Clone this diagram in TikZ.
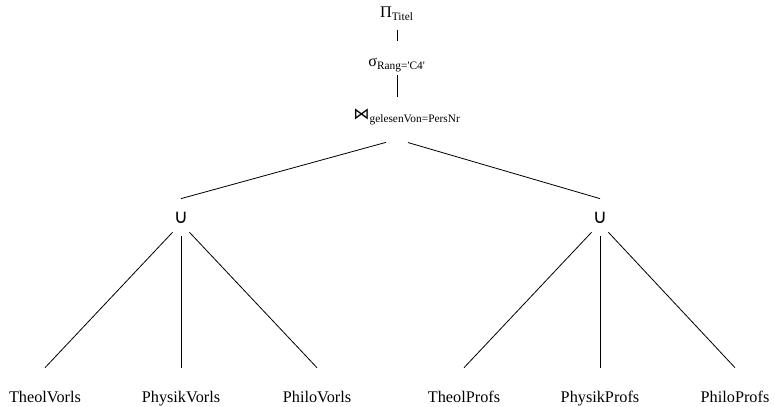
\documentclass[tikz,border=0pt]{standalone}
\usepackage{amsmath, amssymb}
\usepackage{fontspec}
\setmainfont{Liberation Serif}
\newfontfamily\opsymfont{DejaVu Sans}
\usepackage{tikz}
\usetikzlibrary{positioning}

\begin{document}
\begin{tikzpicture}[x=0.6154pt, y=-0.6154pt,
    op/.style={inner sep=0pt, anchor=base, text height=6pt, text depth=2pt},
    joinop/.style={inner sep=0pt, anchor=base, text height=6pt, text depth=11.7pt},
    unionop/.style={inner sep=0pt, anchor=base, text height=14.8pt, text depth=0pt, font=\opsymfont\fontsize{12}{14}\selectfont},
    rel/.style={inner sep=0pt, anchor=base, text height=20.9pt, text depth=1pt},
    edge/.style={line width=0.5pt}]
            \useasboundingbox (0,0) rectangle (775,407);
            \draw (397,18) node[op]                  (proj) {$\text{Π}_{\text{Titel}}$};
            \draw (397,67) node[op]                  (sel) {$\text{σ}_{\text{Rang=\textquotesingle C4\textquotesingle}}$};
            \draw (407,120) node[joinop]             (join) {$\text{\opsymfont ⋈}_{\text{gelesenVon=PersNr}}$};
            \draw (181,223) node[unionop]            (uV) {∪};
            \draw (600,223) node[unionop]            (uP) {∪};
            \draw (45,402) node[rel]                 (theolV) {TheolVorls};
            \draw (181,402) node[rel]                (physikV) {PhysikVorls};
            \draw (317,402) node[rel]                (philoV) {PhiloVorls};
            \draw (464,402) node[rel]                (theolP) {TheolProfs};
            \draw (600,402) node[rel]                (physikP) {PhysikProfs};
            \draw (735,402) node[rel]                (philoP) {PhiloProfs};
            \draw[edge, shorten <=5pt, shorten >=10pt] (proj.south) -- (sel.north);
            \draw[edge, shorten <=3pt, shorten >=8pt] (sel.south) -- (sel.south |- join.north);
            \foreach \u in {uV, uP}
              \draw[edge, shorten <=7pt] (join.south -| proj.south) -- (\u.north);
            \foreach \r in {theolV, physikV, philoV}
              \draw[edge, shorten <=7.5pt] (uV.south) -- (\r.north);
            \foreach \r in {theolP, physikP, philoP}
              \draw[edge, shorten <=7.5pt] (uP.south) -- (\r.north);

            \end{tikzpicture}
\end{document}
